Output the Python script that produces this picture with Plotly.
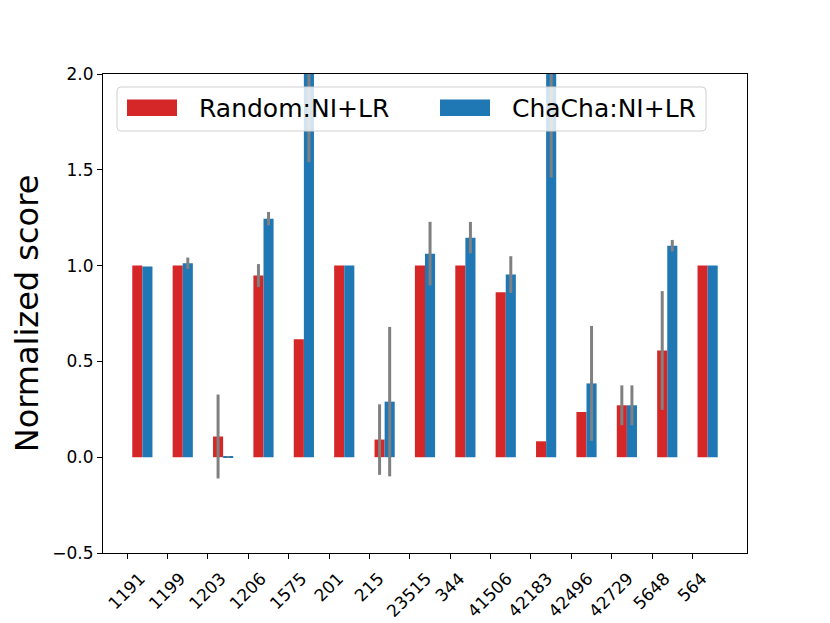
import plotly.graph_objects as go
import numpy as np

categories = ["1191", "1199", "1203", "1206", "1575", "201", "215", "23515",
              "344", "41506", "42183", "42496", "42729", "5648", "564"]
random_vals = [1.0, 1.0, 0.108, 0.948, 0.615, 1.0, 0.092, 1.0,
               1.0, 0.861, 0.083, 0.236, 0.271, 0.557, 1.0]
random_err = [0.0, 0.0, 0.219, 0.06, 0.0, 0.0, 0.184, 0.0,
              0.0, 0.0, 0.0, 0.0, 0.104, 0.31, 0.0]
chacha_vals = [0.995, 1.012, 0.002, 1.245, 2.3, 1.0, 0.29, 1.0625,
               1.146, 0.953, 2.6, 0.385, 0.271, 1.104, 1.0]
chacha_err = [0.0, 0.03, 0.004, 0.035, 0.76, 0.0, 0.39, 0.166,
              0.082, 0.096, 1.14, 0.3, 0.104, 0.03, 0.0]

RED = "#d62728"
BLUE = "#1f77b4"
W = 0.25
idx = np.arange(len(categories))

fig = go.Figure()
fig.add_trace(go.Bar(
    x=idx + W, y=random_vals, width=W, name="Random:NI+LR",
    marker=dict(color=RED, line=dict(width=0)),
    error_y=dict(type="data", array=random_err, color="#808080", thickness=3, width=0),
    showlegend=False))
fig.add_trace(go.Bar(
    x=idx + 2 * W, y=chacha_vals, width=W, name="ChaCha:NI+LR",
    marker=dict(color=BLUE, line=dict(width=0)),
    error_y=dict(type="data", array=chacha_err, color="#808080", thickness=3, width=0),
    showlegend=False))

# page offset (browser body margin) and plot area geometry (screen pixels)
OFF = 8
FW, FH = 830 - OFF, 623 - OFF
L, R, T, B = 103, 747, 74, 553
PW, PH = R - L, B - T
xr = (-0.6, 15.35)
upx = PW / (xr[1] - xr[0])

# label shift so rotated labels are centred on ticks (matplotlib style)
label_pos = [i + (3.6 * len(c) - 1.5) / upx for i, c in zip(idx, categories)]

fig.update_layout(
    width=FW, height=FH,
    margin=dict(l=L - OFF, r=FW + OFF - R, t=T - OFF, b=FH + OFF - B, autoexpand=False),
    paper_bgcolor="white", plot_bgcolor="white",
    barmode="overlay",
    font=dict(family="DejaVu Sans", color="black", size=17),
    xaxis=dict(
        range=list(xr), showgrid=False, zeroline=False, automargin=False,
        showline=True, mirror=True, linecolor="black", linewidth=1,
        tickmode="array", tickvals=label_pos, ticktext=categories,
        tickangle=-45, ticks="outside", ticklen=8, tickcolor="rgba(0,0,0,0)",
        tickfont=dict(size=17),
        minor=dict(tickmode="array", tickvals=list(idx), ticks="outside",
                   ticklen=5, tickwidth=1, tickcolor="black"),
    ),
    yaxis=dict(
        range=[-0.5, 2.0], dtick=0.5, tick0=-0.5, tickformat=".1f",
        showgrid=False, zeroline=False, automargin=False,
        showline=True, mirror=True, linecolor="black", linewidth=1,
        ticks="outside", ticklen=5, tickcolor="black",
        tickfont=dict(size=17),
        title=dict(text="Normalized score", font=dict(size=32), standoff=12),
    ),
)

def px_x(p):
    return (p - L) / PW

def px_y(p):
    return (B - p) / PH

# legend frame (rounded, semi-transparent)
x0, x1, y0, y1 = px_x(117), px_x(706), px_y(131), px_y(87)
rx, ry = 4 / PW, 4 / PH
path = (f"M {x0+rx},{y0} L {x1-rx},{y0} Q {x1},{y0} {x1},{y0+ry} "
        f"L {x1},{y1-ry} Q {x1},{y1} {x1-rx},{y1} L {x0+rx},{y1} "
        f"Q {x0},{y1} {x0},{y1-ry} L {x0},{y0+ry} Q {x0},{y0} {x0+rx},{y0} Z")
fig.add_shape(type="path", path=path, xref="paper", yref="paper",
              fillcolor="rgba(255,255,255,0.8)", line=dict(color="#d0d0d0", width=1),
              layer="above")
for (a, b, col) in [(127, 177, RED), (440, 490, BLUE)]:
    fig.add_shape(type="rect", xref="paper", yref="paper",
                  x0=px_x(a), x1=px_x(b), y0=px_y(116), y1=px_y(99.5),
                  fillcolor=col, line=dict(width=0), layer="above")
for (tx, txt) in [(197, "Random:NI+LR"), (510, "ChaCha:NI+LR")]:
    fig.add_annotation(x=px_x(tx), y=px_y(108), xref="paper", yref="paper",
                       text=txt, showarrow=False, xanchor="left", yanchor="middle",
                       font=dict(size=25, family="DejaVu Sans", color="black"))

fig.write_html("out.html")
